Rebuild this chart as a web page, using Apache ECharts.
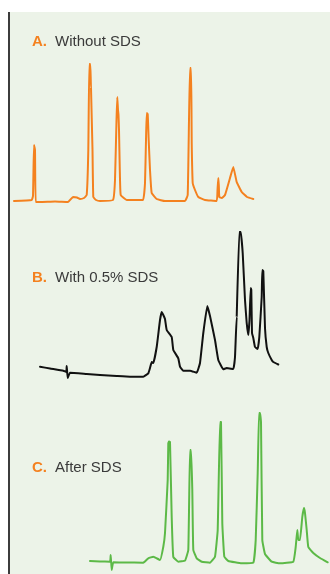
<!DOCTYPE html>
<html>
<head>
<meta charset="utf-8">
<style>
  html, body { margin: 0; padding: 0; background: #ffffff; }
  #chart { width: 330px; height: 574px; }
</style>
<script src="https://cdn.jsdelivr.net/npm/echarts@6/dist/echarts.min.js"></script>
</head>
<body>
<div id="chart"></div>
<script>
// Chromatogram panel labels
const panelLetters = ['A.', 'B.', 'C.'];
const panelTitles = ['Without SDS', 'With 0.5% SDS', 'After SDS'];

// A. Without SDS — retention time (min) and detector signal (mAU)
const timeA = [1.4, 3.17, 3.3, 3.4, 3.5, 3.57, 4.0, 5.5, 6.8, 7.3, 7.7, 8.0, 8.4, 8.67, 8.83, 8.93, 9.03, 9.1, 9.17, 9.25, 9.33, 9.6, 10.0,
  11.3, 11.5, 11.65, 11.73, 11.8, 11.85, 11.9, 11.98, 12.07, 12.67, 14.3, 14.5, 14.6, 14.67, 14.77, 14.87, 15.0, 15.17, 15.67,
  16.5, 18.5, 18.77, 18.9, 19.0, 19.1, 19.15, 19.17, 19.27, 19.5, 19.83, 20.5, 21.67, 21.75, 21.83, 21.88, 21.93, 22.17, 22.5,
  23.0, 23.33, 23.67, 24.17, 24.7, 25.33];
const signalA = [0, 1, 5, 56, 51, -1, -1, -0.5, -1, 4, 3.5, 2, 3, 6, 51, 137, 137, 113, 113, 51, 4, 1, 0,
  1, 21, 81, 104, 91, 86, 71, 31, 6, 1, 1, 18, 61, 88, 87, 61, 31, 8, 2,
  0, 0, 6, 81, 133, 133, 91, 59, 18, 11, 4, 1, 0, 11, 23, 16, 4, 3, 6,
  23, 34, 19, 9, 4, 2];

// B. With 0.5% SDS
const timeB = [4.0, 5.0, 6.33, 6.63, 6.67, 6.77, 7.0, 8.67, 10.0, 11.67, 13.0, 14.33, 14.83, 15.0, 15.17, 15.33, 15.67, 16.0,
  16.17, 16.33, 16.5, 16.67, 17.17, 17.33, 17.83, 18.0, 18.33, 19.0, 19.67, 20.0, 20.33, 20.73, 21.0, 21.5, 21.83, 22.33,
  22.67, 23.33, 23.5, 23.67, 23.73, 23.93, 24.07, 24.27, 24.5, 24.67, 24.83, 24.95, 25.07, 25.13, 25.2, 25.33, 25.5, 25.77,
  25.93, 26.17, 26.23, 26.33, 26.5, 26.67, 26.83, 27.17, 27.33, 27.83];
const signalB = [9.3, 7.5, 5.3, 4, 10, -2, 3.3, 2, 1, 0, -0.7, -0.7, 2.7, 8, 14, 13, 29, 56,
  64, 61, 57, 46, 39, 26, 17.7, 9.3, 5.3, 5.3, 3.3, 13, 43, 70, 60, 36, 16, 6.7,
  8, 7, 19, 59, 59, 144, 144, 123, 76, 53, 41, 56, 88, 86, 43, 38, 29, 27,
  39, 79, 106, 105, 48, 29, 23, 16, 14, 11.5];

// C. After SDS
const timeC = [9.0, 10.0, 11.0, 11.07, 11.17, 11.33, 12.5, 14.33, 14.83, 15.33, 16.0, 16.33, 16.5, 16.77, 16.83, 16.9, 17.0,
  17.17, 17.33, 17.83, 18.5, 18.83, 19.0, 19.1, 19.23, 19.33, 19.67, 20.17, 21.0, 21.5, 21.77, 22.0, 22.1, 22.23, 22.43,
  22.83, 24.17, 25.33, 25.57, 25.77, 25.9, 26.0, 26.1, 26.23, 26.5, 27.17, 28.0, 29.33, 29.57, 29.73, 29.83, 30.0, 30.23,
  30.4, 30.5, 30.67, 30.83, 31.33, 32.0, 32.77];
const signalC = [1, 0.5, 0.3, 7, -8, -0.3, -0.5, -0.7, 3.7, 5.3, 2, 15.3, 29, 82, 118.7, 120.5, 120,
  45, 5, 0.3, 1.3, 12, 112, 112, 72, 12, 3.7, 0.3, -0.7, 5.3, 32, 140, 140, 39, 5.3,
  1, -1.3, -0.7, 22, 89, 149, 149, 140, 22, 8, 0.3, -1.3, 0.3, 15, 32, 22, 22, 45,
  54, 49, 32, 15, 9, 4, -0.3];

const pairs = (t, s) => t.map((v, i) => [v, s[i]]);

const traces = [
  { time: timeA, signal: signalA, color: '#f4811f', top: 61, yMin: -5, yMax: 140, labelY: 42 },
  { time: timeB, signal: signalB, color: '#111111', top: 226, yMin: -5, yMax: 150, labelY: 278 },
  { time: timeC, signal: signalC, color: '#5cb947', top: 407, yMin: -10, yMax: 155, labelY: 468 }
];

const grids = traces.map(tr => ({
  left: 0, right: 0, top: tr.top, height: tr.yMax - tr.yMin
}));
const xAxes = traces.map((tr, i) => ({
  type: 'value', gridIndex: i, min: 0, max: 33, show: false
}));
const yAxes = traces.map((tr, i) => ({
  type: 'value', gridIndex: i, min: tr.yMin, max: tr.yMax, show: false
}));
const series = traces.map((tr, i) => ({
  type: 'line', xAxisIndex: i, yAxisIndex: i,
  data: pairs(tr.time, tr.signal),
  showSymbol: false, symbol: 'none',
  smooth: 0.1,
  lineStyle: { color: tr.color, width: 2, join: 'round', cap: 'round' },
  silent: true, z: 3
}));

const labelGraphics = [];
traces.forEach((tr, i) => {
  labelGraphics.push({
    type: 'text', x: 32, y: tr.labelY, z: 10,
    style: {
      text: panelLetters[i], fill: '#f4811f',
      font: 'bold 15px "Liberation Sans", Arial, sans-serif',
      verticalAlign: 'middle'
    }
  });
  labelGraphics.push({
    type: 'text', x: 55, y: tr.labelY, z: 10,
    style: {
      text: panelTitles[i], fill: '#3a3a3a',
      font: '15px "Liberation Sans", Arial, sans-serif',
      verticalAlign: 'middle'
    }
  });
});

const chart = echarts.init(document.getElementById('chart'), null, { renderer: 'canvas' });
chart.setOption({
  animation: false,
  backgroundColor: '#ffffff',
  grid: grids,
  xAxis: xAxes,
  yAxis: yAxes,
  series: series,
  graphic: [
    { type: 'rect', shape: { x: 10, y: 12, width: 320, height: 562 }, style: { fill: '#ecf3e8' }, z: 0, silent: true },
    { type: 'line', shape: { x1: 9, y1: 12, x2: 9, y2: 574 }, style: { stroke: '#3c3c3c', lineWidth: 2 }, z: 1, silent: true }
  ].concat(labelGraphics)
});
</script>
</body>
</html>
